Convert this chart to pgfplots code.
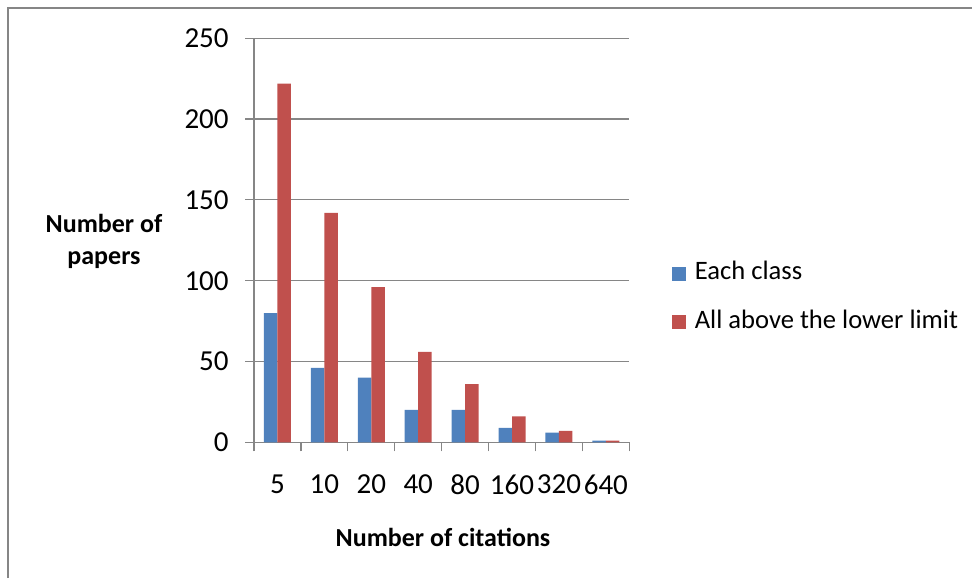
\documentclass[border=0pt]{standalone}
\usepackage{pgfplots}
\pgfplotsset{compat=1.18}
\usepackage{fontspec}
\setmainfont{Carlito}
\definecolor{xlblue}{HTML}{4F81BD}
\definecolor{xlred}{HTML}{C0504D}
\definecolor{xlgray}{HTML}{868686}
\begin{document}
\begin{tikzpicture}
\useasboundingbox (0,0) rectangle (486pt,289pt);
\draw[xlgray, line width=1pt] (3.75pt,0pt) -- (3.75pt,285pt) -- (486pt,285pt);
\begin{axis}[
  at={(127pt,67.85pt)}, anchor=south west,
  scale only axis, width=187.65pt, height=202pt,
  ybar=0pt, bar width=6.75pt,
  xmin=-0.5, xmax=7.5, ymin=0, ymax=250,
  axis x line*=bottom, axis y line*=left,
  axis line style={xlgray, line width=0.6pt},
  ytick={0,50,...,250},
  ymajorgrids, grid style={xlgray, line width=0.6pt},
  tick align=outside, major tick length=4.5pt,
  tick style={xlgray, line width=0.6pt},
  xtick={-0.5,0.5,...,7.5}, xticklabels={},
  extra x ticks={0,1,2,3,4,5,6,7},
  extra x tick labels={5,10,20,40,80,160,320,640},
  extra x tick style={major tick length=0pt, tick style={draw=none},
    xticklabel style={anchor=north, inner sep=0pt, yshift=-16pt}},
  /pgf/number format/assume math mode=true,
  yticklabel style={anchor=east, inner sep=0pt, xshift=-8pt},
  ticklabel style={font=\fontsize{14.5}{17}\selectfont, text=black},
  legend style={draw=none, fill=none, at={(axis description cs:1.1138,0.357)}, anchor=west,
    font=\fontsize{13.3}{16}\selectfont, row sep=12.4pt, column sep=4.2pt, inner sep=0pt,
    nodes={inner sep=0pt, text height=9pt, text depth=3pt}},
  legend cell align=left,
  legend image code/.code={\fill[#1] (0pt,-3.5pt) rectangle (7pt,3.5pt);},
]
\addplot[fill=xlblue, draw=none] coordinates {(0,80) (1,46) (2,40) (3,20) (4,20) (5,9) (6,6) (7,1)};
\addplot[fill=xlred, draw=none] coordinates {(0,222) (1,142) (2,96) (3,56) (4,36) (5,16) (6,7) (7,1)};
\legend{Each class, All above the lower limit}
\end{axis}
\node[font=\bfseries\fontsize{13}{16}\selectfont, align=center] at (52pt,168.5pt) {Number of\\papers};
\node[font=\bfseries\fontsize{13}{16}\selectfont] at (221.5pt,20.5pt) {Number of citations};
\end{tikzpicture}
\end{document}
